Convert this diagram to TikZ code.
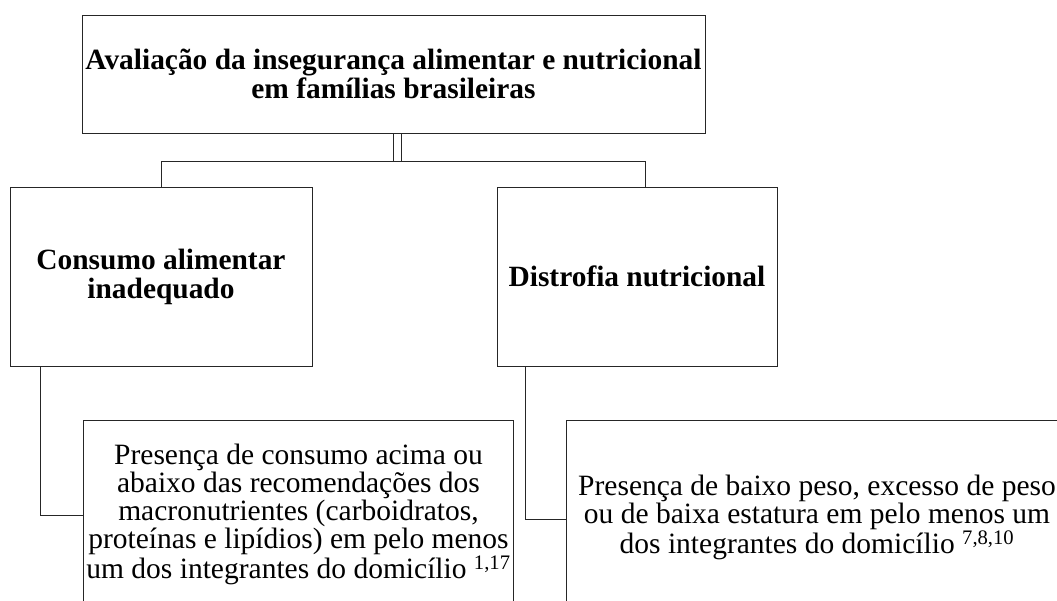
\documentclass[tikz,border=0pt]{standalone}
\usepackage{fontspec}
\setmainfont{Liberation Serif}
\usetikzlibrary{positioning}

\tikzset{
	caixa/.style={draw=black!85, line width=0.8pt, align=center, inner sep=0pt},
	titulo/.style={font=\fontsize{29.4}{29}\selectfont\bfseries},
	corpo/.style={font=\fontsize{29.5}{28}\selectfont},
	liga/.style={draw=black!85, line width=0.8pt}
}

\begin{document}
\begin{tikzpicture} [x=1pt, y=-1pt]
		%\draw [thin, help lines] (0,0) grid (1057,601);
		\useasboundingbox (0,0) rectangle (1057,601);
		\clip (0,0) rectangle (1057,601);
		\node[caixa, titulo, minimum width=623pt, minimum height=118pt] (aval) at (393.5,74) {Avaliação da insegurança alimentar e nutricional\\em famílias brasileiras};
		\node[caixa, titulo, minimum width=302pt, minimum height=179pt] (cons) at (161,276.5) {Consumo alimentar\\inadequado};
		\node[caixa, titulo, minimum width=280pt, minimum height=179pt] (dist) at (637,276.5) {Distrofia nutricional};
		\node[caixa, corpo, anchor=north, minimum width=430pt, inner ysep=24pt, text depth=7.5pt] (macro) at (298.5,420) {Presença de consumo acima ou\\abaixo das recomendações dos\\macronutrientes (carboidratos,\\proteínas e lipídios) em pelo menos\\um dos integrantes do domicílio \textsuperscript{1,17}};
		\node[caixa, corpo, anchor=north, minimum width=502pt, inner ysep=55pt, text depth=9.5pt] (peso) at (817,420) {Presença de baixo peso, excesso de peso\\ou de baixa estatura em pelo menos um\\dos integrantes do domicílio \textsuperscript{7,8,10}};
		\coordinate (juncE) at (393,161);
		\coordinate (juncD) at (401,161);
		\coordinate (ramoE) at (161,161);
		\coordinate (ramoD) at (645,161);
		\draw[liga] (aval.south -| juncE) -- (juncE);
		\draw[liga] (aval.south -| juncD) -- (juncD);
		\draw[liga] (cons.north) -- (ramoE) -- (ramoD) -- (ramoD |- dist.north);
		\draw[liga] ([xshift=-121pt]cons.south) |- (macro.west);
		\draw[liga] ([xshift=-112pt]dist.south) |- (peso.west);
	\end{tikzpicture}
\end{document}
